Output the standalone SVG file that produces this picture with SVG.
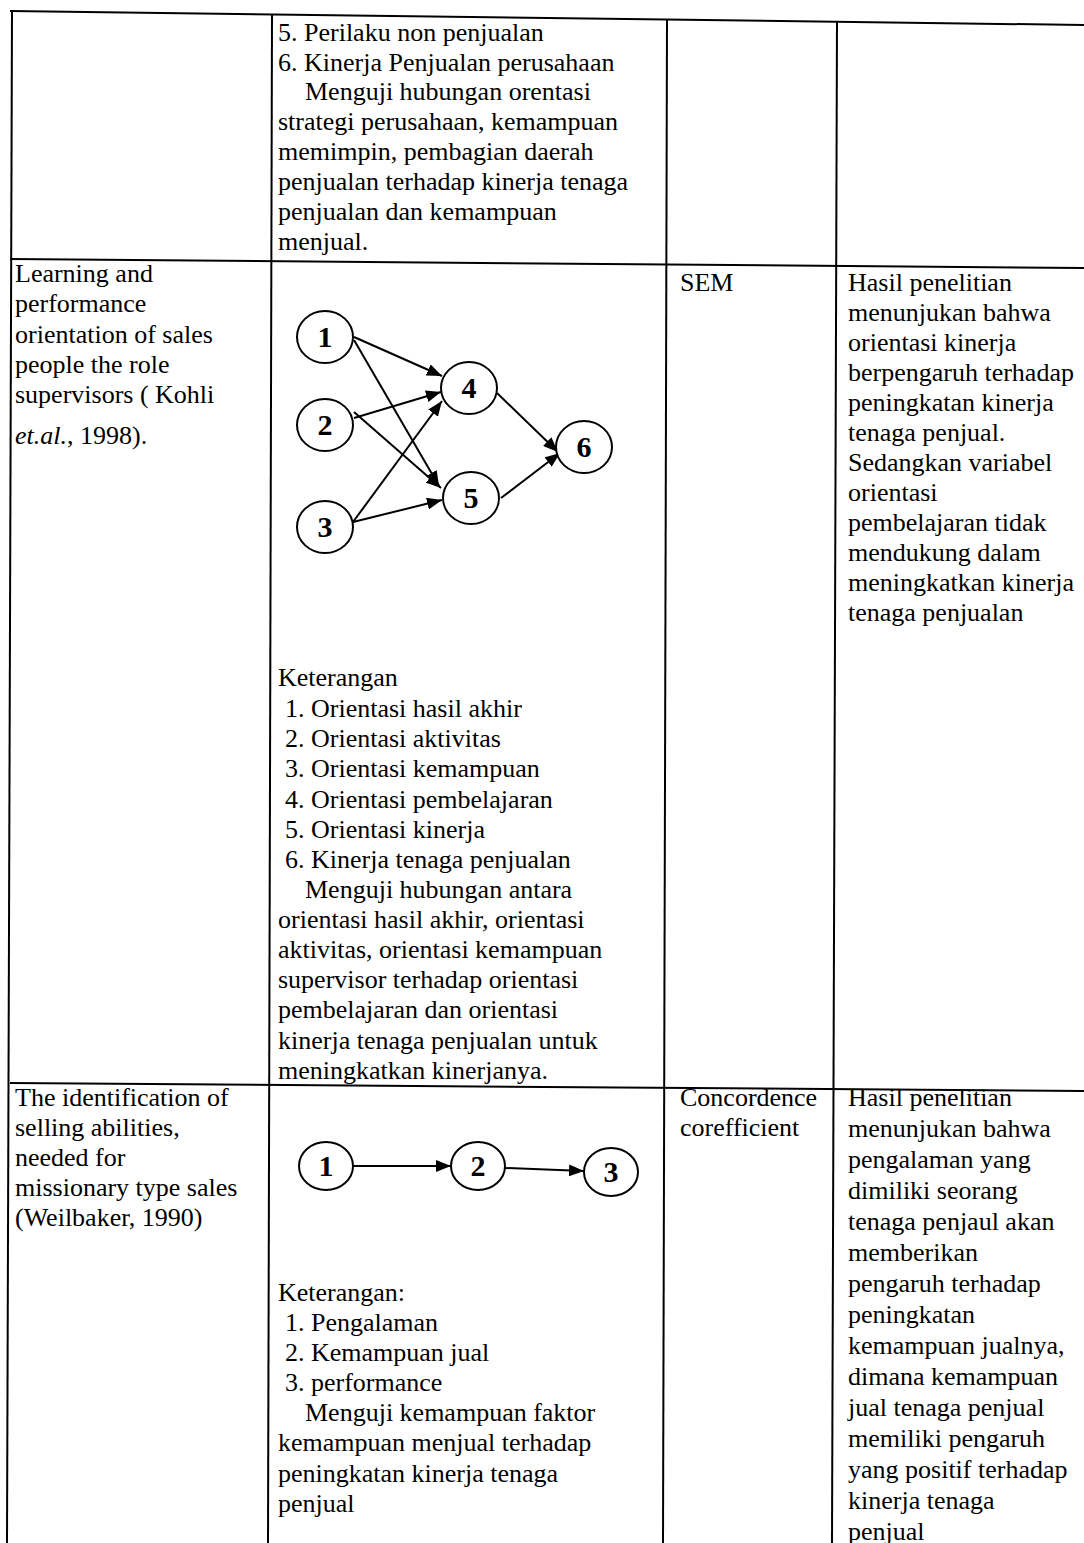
<svg xmlns="http://www.w3.org/2000/svg" width="1084" height="1543" viewBox="0 0 1084 1543">
  <style>
    .t { font-family: "Liberation Serif", "Times New Roman", serif; font-size: 26px; fill: #000; }
    .num { font-family: "Liberation Serif", "Times New Roman", serif; font-size: 30px; font-weight: bold; fill: #000; text-anchor: middle; }
    .grid { stroke: #000; stroke-width: 2; fill: none; }
    .node { fill: #fff; stroke: #000; stroke-width: 2; }
    .edge { stroke: #000; stroke-width: 2; fill: none; marker-end: url(#arrow); }
  </style>
  <defs>
    <marker id="arrow" markerUnits="userSpaceOnUse" markerWidth="15" markerHeight="12" refX="15" refY="6" orient="auto">
      <path d="M0,0 L15,6 L0,12 z" fill="#000"/>
    </marker>
  </defs>
  <rect width="1084" height="1543" fill="#fff"/>

  <!-- table rules -->
  <g id="table">
    <line class="grid" x1="10" y1="11" x2="1084" y2="25"/>
    <line class="grid" x1="12" y1="11" x2="7" y2="1543"/>
    <line class="grid" x1="272" y1="14" x2="268" y2="1543"/>
    <line class="grid" x1="667" y1="20" x2="663" y2="1543"/>
    <line class="grid" x1="837" y1="22" x2="832" y2="1543"/>
    <line class="grid" x1="10" y1="259" x2="1084" y2="268"/>
    <line class="grid" x1="10" y1="1083" x2="1084" y2="1091"/>
  </g>

  <!-- row 1 (continued), column 2 -->
  <g id="row1-desc" class="t">
    <text x="278" y="41">5. Perilaku non penjualan</text>
    <text x="278" y="71">6. Kinerja Penjualan perusahaan</text>
    <text x="305" y="100">Menguji hubungan orentasi</text>
    <text x="278" y="130">strategi perusahaan, kemampuan</text>
    <text x="278" y="160">memimpin, pembagian daerah</text>
    <text x="278" y="190">penjualan terhadap kinerja tenaga</text>
    <text x="278" y="220">penjualan dan kemampuan</text>
    <text x="278" y="250">menjual.</text>
  </g>

  <!-- row 2 -->
  <g id="row2-title" class="t">
    <text x="15" y="282">Learning and</text>
    <text x="15" y="312">performance</text>
    <text x="15" y="343">orientation of sales</text>
    <text x="15" y="373">people the role</text>
    <text x="15" y="403">supervisors ( Kohli</text>
    <text x="15" y="444"><tspan font-style="italic">et.al.</tspan>, 1998).</text>
  </g>
  <g id="row2-method" class="t">
    <text x="680" y="291">SEM</text>
  </g>
  <g id="row2-result" class="t">
    <text x="848" y="291">Hasil penelitian</text>
    <text x="848" y="321">menunjukan bahwa</text>
    <text x="848" y="351">orientasi kinerja</text>
    <text x="848" y="381">berpengaruh terhadap</text>
    <text x="848" y="411">peningkatan kinerja</text>
    <text x="848" y="441">tenaga penjual.</text>
    <text x="848" y="471">Sedangkan variabel</text>
    <text x="848" y="501">orientasi</text>
    <text x="848" y="531">pembelajaran tidak</text>
    <text x="848" y="561">mendukung dalam</text>
    <text x="848" y="591">meningkatkan kinerja</text>
    <text x="848" y="621">tenaga penjualan</text>
  </g>

  <!-- model A connectors -->
  <g id="connectors-a">
    <line class="edge" x1="354" y1="337" x2="442" y2="376"/>
    <line class="edge" x1="354" y1="340" x2="439" y2="486"/>
    <line class="edge" x1="354" y1="418" x2="441" y2="392"/>
    <line class="edge" x1="354" y1="412" x2="441" y2="488"/>
    <line class="edge" x1="353" y1="522" x2="442" y2="401"/>
    <line class="edge" x1="353" y1="522" x2="442" y2="500"/>
    <line class="edge" x1="497" y1="393" x2="558" y2="452"/>
    <line class="edge" x1="501" y1="498" x2="560" y2="453"/>
  </g>

  <!-- model A nodes -->
  <g id="a1"><ellipse class="node" cx="325" cy="337" rx="28" ry="26"/><text class="num" x="325" y="347">1</text></g>
  <g id="a2"><ellipse class="node" cx="325" cy="425" rx="28" ry="26"/><text class="num" x="325" y="435">2</text></g>
  <g id="a3"><ellipse class="node" cx="325" cy="527" rx="28" ry="26"/><text class="num" x="325" y="537">3</text></g>
  <g id="a4"><ellipse class="node" cx="469" cy="388" rx="28" ry="26"/><text class="num" x="469" y="398">4</text></g>
  <g id="a5"><ellipse class="node" cx="471" cy="498" rx="28" ry="26"/><text class="num" x="471" y="508">5</text></g>
  <g id="a6"><ellipse class="node" cx="584" cy="447" rx="28" ry="26"/><text class="num" x="584" y="457">6</text></g>

  <!-- model A legend -->
  <g id="row2-desc" class="t">
    <text x="278" y="686">Keterangan</text>
    <text x="285" y="717">1. Orientasi hasil akhir</text>
    <text x="285" y="747">2. Orientasi aktivitas</text>
    <text x="285" y="777">3. Orientasi kemampuan</text>
    <text x="285" y="808">4. Orientasi pembelajaran</text>
    <text x="285" y="838">5. Orientasi kinerja</text>
    <text x="285" y="868">6. Kinerja tenaga penjualan</text>
    <text x="305" y="898">Menguji hubungan antara</text>
    <text x="278" y="928">orientasi hasil akhir, orientasi</text>
    <text x="278" y="958">aktivitas, orientasi kemampuan</text>
    <text x="278" y="988">supervisor terhadap orientasi</text>
    <text x="278" y="1018">pembelajaran dan orientasi</text>
    <text x="278" y="1049">kinerja tenaga penjualan untuk</text>
    <text x="278" y="1079">meningkatkan kinerjanya.</text>
  </g>

  <!-- row 3 -->
  <g id="row3-title" class="t">
    <text x="15" y="1106">The identification of</text>
    <text x="15" y="1136">selling abilities,</text>
    <text x="15" y="1166">needed for</text>
    <text x="15" y="1196">missionary type sales</text>
    <text x="15" y="1226">(Weilbaker, 1990)</text>
  </g>
  <g id="row3-method" class="t">
    <text x="680" y="1106">Concordence</text>
    <text x="680" y="1136">corefficient</text>
  </g>
  <g id="row3-result" class="t">
    <text x="848" y="1106">Hasil penelitian</text>
    <text x="848" y="1137">menunjukan bahwa</text>
    <text x="848" y="1168">pengalaman yang</text>
    <text x="848" y="1199">dimiliki seorang</text>
    <text x="848" y="1230">tenaga penjaul akan</text>
    <text x="848" y="1261">memberikan</text>
    <text x="848" y="1292">pengaruh terhadap</text>
    <text x="848" y="1323">peningkatan</text>
    <text x="848" y="1354">kemampuan jualnya,</text>
    <text x="848" y="1385">dimana kemampuan</text>
    <text x="848" y="1416">jual tenaga penjual</text>
    <text x="848" y="1447">memiliki pengaruh</text>
    <text x="848" y="1478">yang positif terhadap</text>
    <text x="848" y="1509">kinerja tenaga</text>
    <text x="848" y="1540">penjual</text>
  </g>

  <!-- model B connectors -->
  <g id="connectors-b">
    <line class="edge" x1="353" y1="1166" x2="451" y2="1166"/>
    <line class="edge" x1="505" y1="1168" x2="584" y2="1171"/>
  </g>

  <!-- model B nodes -->
  <g id="b1"><ellipse class="node" cx="326" cy="1166" rx="27" ry="24"/><text class="num" x="326" y="1176">1</text></g>
  <g id="b2"><ellipse class="node" cx="478" cy="1166" rx="27" ry="24"/><text class="num" x="478" y="1176">2</text></g>
  <g id="b3"><ellipse class="node" cx="611" cy="1172" rx="27" ry="24"/><text class="num" x="611" y="1182">3</text></g>

  <!-- model B legend -->
  <g id="row3-desc" class="t">
    <text x="278" y="1301">Keterangan:</text>
    <text x="285" y="1331">1. Pengalaman</text>
    <text x="285" y="1361">2. Kemampuan jual</text>
    <text x="285" y="1391">3. performance</text>
    <text x="305" y="1421">Menguji kemampuan faktor</text>
    <text x="278" y="1451">kemampuan menjual terhadap</text>
    <text x="278" y="1482">peningkatan kinerja tenaga</text>
    <text x="278" y="1512">penjual</text>
  </g>
</svg>
